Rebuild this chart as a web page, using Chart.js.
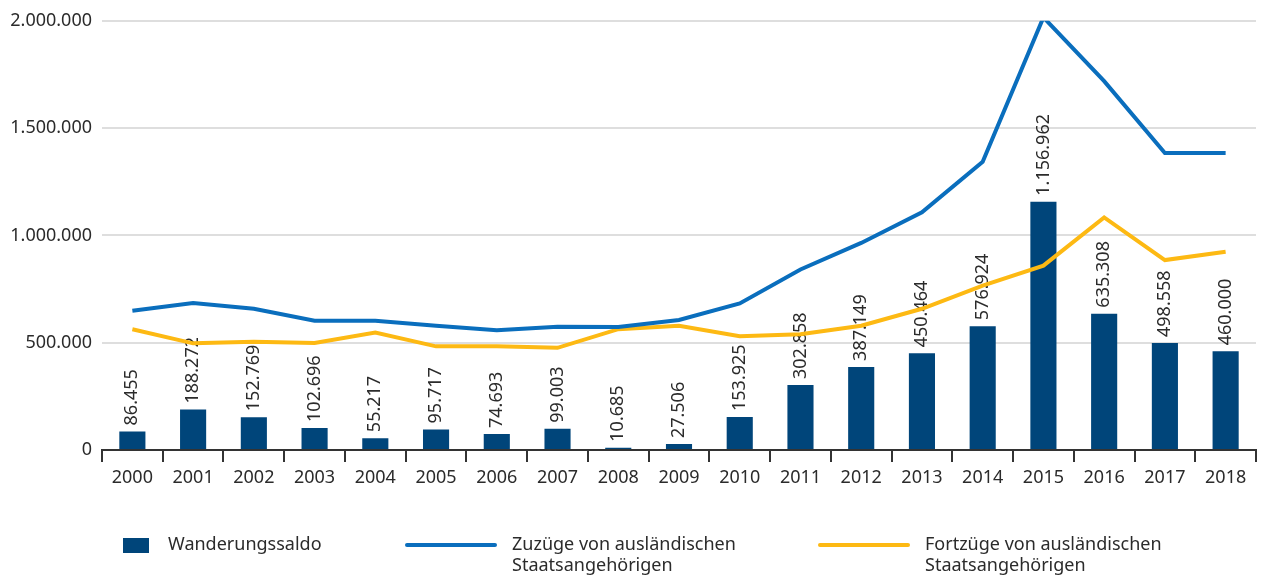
<!DOCTYPE html>
<html lang="de">
<head>
<meta charset="utf-8">
<title>Wanderungen ausländischer Staatsangehöriger 2000–2018</title>
<script src="https://cdn.jsdelivr.net/npm/chart.js@4.4.1/dist/chart.umd.min.js"></script>
<style>
  html, body { margin: 0; padding: 0; background: #fff; }
  #wrap { position: relative; width: 1270px; height: 579px; font-family: "Noto Sans", sans-serif; color: #2b2b2b; }
  #wrap canvas { position: absolute; left: 0; top: 0; }
  .lg { position: absolute; font-size: 18px; line-height: 21px; color: #2b2b2b; }
  .sw-box { position: absolute; width: 26px; height: 15px; background: #00457a; }
  .sw-line { position: absolute; height: 4px; border-radius: 2px; }
</style>
</head>
<body>
<div id="wrap">
  <canvas id="chart" width="1270" height="579"></canvas>
  <div class="sw-box" style="left:123px; top:538px;"></div>
  <div class="lg" style="left:168px; top:533px;">Wanderungssaldo</div>
  <div class="sw-line" style="left:405px; top:543px; width:92px; background:#0a6ebd;"></div>
  <div class="lg" style="left:512px; top:533px;">Zuzüge von ausländischen<br>Staatsangehörigen</div>
  <div class="sw-line" style="left:818px; top:543px; width:92px; background:#fdb913;"></div>
  <div class="lg" style="left:925px; top:533px;">Fortzüge von ausländischen<br>Staatsangehörigen</div>
</div>
<script>
const YEARS = ['2000', '2001', '2002', '2003', '2004', '2005', '2006', '2007', '2008', '2009',
  '2010', '2011', '2012', '2013', '2014', '2015', '2016', '2017', '2018'];

// net migration of foreign nationals
const SALDO = [86455, 188272, 152769, 102696, 55217, 95717, 74693, 99003, 10685, 27506,
  153925, 302858, 387149, 450464, 576924, 1156962, 635308, 498558, 460000];

// arrivals
const ZUZUEGE = [649000, 685000, 658000, 602000, 602000, 579000, 558000, 574000, 573000, 606000,
  683000, 841000, 965000, 1108000, 1343000, 2016000, 1719000, 1384000, 1384000];

// departures
const FORTZUEGE = [563000, 497000, 505000, 499000, 547000, 483000, 484000, 476000, 563000, 579000,
  530000, 539000, 579000, 658000, 766000, 859000, 1084000, 885000, 924000];

const Y_TICKS = [0, 500000, 1000000, 1500000, 2000000];

const FONT = { family: '"Noto Sans", sans-serif', size: 18 };
const TEXT = '#2b2b2b';

function fmt(n) {
  return String(n).replace(/\B(?=(\d{3})+(?!\d))/g, '.');
}

// rotated value labels above the bars, drawn before the lines
const barLabels = {
  id: 'barLabels',
  afterDatasetDraw(chart, args) {
    if (args.index !== 0) return;
    const ctx = chart.ctx;
    ctx.save();
    ctx.font = `${FONT.size}px ${FONT.family}`;
    ctx.fillStyle = TEXT;
    ctx.textAlign = 'left';
    ctx.textBaseline = 'middle';
    args.meta.data.forEach((bar, i) => {
      ctx.save();
      ctx.translate(bar.x, bar.y - 6);
      ctx.rotate(-Math.PI / 2);
      ctx.fillText(fmt(SALDO[i]), 0, 0);
      ctx.restore();
    });
    ctx.restore();
  },
};

new Chart(document.getElementById('chart'), {
  data: {
    labels: YEARS,
    datasets: [
      {
        type: 'bar',
        label: 'Wanderungssaldo',
        data: SALDO,
        backgroundColor: '#00457a',
        barPercentage: 0.43,
        categoryPercentage: 1,
        order: 3,
      },
      {
        type: 'line',
        label: 'Zuzüge von ausländischen Staatsangehörigen',
        data: ZUZUEGE,
        borderColor: '#0a6ebd',
        borderWidth: 4,
        pointRadius: 0,
        tension: 0,
        order: 1,
      },
      {
        type: 'line',
        label: 'Fortzüge von ausländischen Staatsangehörigen',
        data: FORTZUEGE,
        borderColor: '#fdb913',
        borderWidth: 4,
        pointRadius: 0,
        tension: 0,
        order: 2,
      },
    ],
  },
  options: {
    responsive: false,
    animation: false,
    layout: { padding: { top: 20, right: 14, bottom: 79, left: 0 } },
    plugins: {
      legend: { display: false },
      tooltip: { enabled: false },
    },
    scales: {
      x: {
        offset: true,
        grid: {
          offset: true,
          drawOnChartArea: false,
          drawTicks: true,
          tickLength: 12,
          color: '#333',
          lineWidth: 2,
        },
        border: { display: true, color: '#333', width: 2 },
        ticks: { color: TEXT, font: FONT, padding: 5, maxRotation: 0 },
        afterFit(scale) { scale.height = 50; },
      },
      y: {
        min: 0,
        max: 2000000,
        afterBuildTicks(scale) { scale.ticks = Y_TICKS.map(v => ({ value: v })); },
        grid: { color: '#dedede', lineWidth: 2, drawTicks: false },
        border: { display: false },
        ticks: { color: TEXT, font: FONT, padding: 10, callback: v => fmt(v) },
        afterFit(scale) { scale.width = 102; },
      },
    },
  },
  plugins: [barLabels],
});
</script>
</body>
</html>
